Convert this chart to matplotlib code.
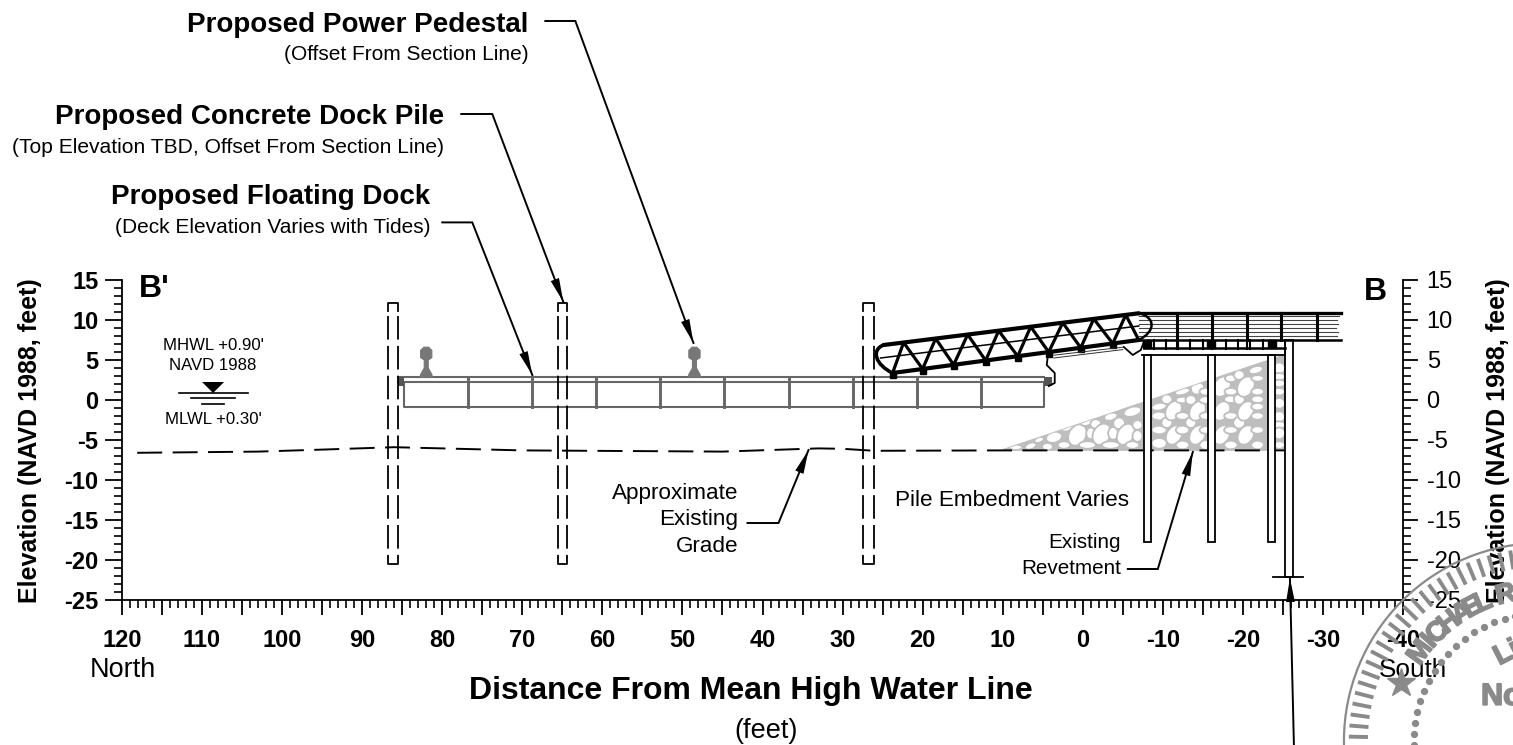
import numpy as np
import matplotlib
matplotlib.use('Agg')
import matplotlib.pyplot as plt
import matplotlib.patheffects as pe
from matplotlib.patches import Polygon, Ellipse, PathPatch, Rectangle, Circle
from matplotlib.path import Path

plt.rcParams['font.family'] = ['Liberation Sans', 'DejaVu Sans']
plt.rcParams['lines.scale_dashes'] = False

# everything below is in drawing units: feet along the section, feet NAVD 1988
x_major = [120, 115, 110, 105, 100, 95, 90, 85, 80, 75, 70, 65, 60, 55, 50, 45, 40, 35,
           30, 25, 20, 15, 10, 5, 0, -5, -10, -15, -20, -25, -30, -35, -40]
x_labels = ['120', '', '110', '', '100', '', '90', '', '80', '', '70', '', '60', '', '50', '',
            '40', '', '30', '', '20', '', '10', '', '0', '', '-10', '', '-20', '', '-30', '', '-40']
y_major = [15, 10, 5, 0, -5, -10, -15, -20, -25]
y_labels = ['15', '10', '5', '0', '-5', '-10', '-15', '-20', '-25']

grade_x = [118.1, 103, 95, 86, 70, 45, 33, 30, 26, 10, -25.25]
grade_y = [-6.6, -6.45, -6.2, -5.9, -6.3, -6.45, -6.05, -6.1, -6.35, -6.3, -6.3]

# new piles (dashed) left/right faces
new_pile_left = [86.75, 65.6, 27.4]
new_pile_right = [85.5, 64.4, 26.1]
new_pile_top = 12.1
new_pile_bottom = -20.5

# floating dock
dock_left = 84.75
dock_right = 4.875
dock_deck_top = 2.875
dock_deck_under = 2.3
dock_bottom = -0.875
dock_joints = [76.75, 68.75, 60.75, 52.75, 44.75, 36.75, 28.75, 20.75, 12.75]
pedestals = [82, 48.5]
ped_half = [0.75, 0.7, 0.25, 0.25, 0.7, 0.7, 0.3]
ped_y = [2.875, 3.2, 4.0, 5.0, 5.3, 6.2, 6.6]

# gangway
top_chord_x = [24.875, -7]
top_chord_y = [6.875, 10.84]
bot_chord_x = [23.75, -7]
bot_chord_y = [3.375, 7.5]
mid_chord_x = [25.25, -7]
mid_chord_y = [5.25, 9.25]
truss_top = [22.375, 18.375, 14.375, 10.5, 6.5, 2.5, -1.375, -5.375]
truss_bot = [23.75, 20, 16.125, 12.125, 8.125, 4.25, 0.25, -3.75, -7]

# existing pier
pier_left = -7
pier_right = -32.25
pier_top = 10.875
pier_soffit = 7.5
pier_hatch_y = [10.5, 10, 9.5, 9, 8.5, 8]
pier_hatch_end = [-32.0, -31.7, -31.9, -31.6, -31.9, -31.8]
pier_bents = [-11.75, -16.125, -20.5, -24.75, -29.25]
pier_studs = [-8.875, -10.375, -11.875, -13.375, -15, -17.875, -19.375, -20.875, -22.5]
pile_caps = [-8, -16, -23.625]
old_pile_left = [-7.625, -15.625, -23.125]
old_pile_right = [-8.5, -16.5, -24]

# revetment outline and stones, stones digitized at 24 units per foot from the toe corner
rev_x = [10, -25.25, -25.25]
rev_y = [-6.25, 5.625, -6.25]
stones = [(60, 292, 30, 10, 0), (105, 288, 26, 12, 20), (130, 270, 22, 10, 20), (155, 290, 24, 14, 0),
          (175, 262, 36, 20, 15), (205, 285, 28, 14, 0), (215, 232, 30, 14, 20), (245, 255, 50, 32, 60),
          (275, 215, 30, 14, 20), (275, 285, 38, 14, 0), (285, 250, 20, 22, 0), (300, 222, 24, 18, 0),
          (318, 253, 50, 32, 60), (345, 200, 30, 14, 15), (345, 285, 40, 14, 0), (352, 250, 22, 24, 0),
          (370, 220, 26, 22, 0), (390, 253, 50, 30, 60), (410, 185, 40, 18, 15), (410, 285, 30, 14, 0),
          (425, 225, 22, 18, 0), (425, 258, 22, 22, 0), (490, 170, 34, 14, 10), (490, 198, 34, 16, 0),
          (490, 240, 34, 16, 0), (490, 280, 34, 20, 0), (513, 148, 24, 18, 0), (513, 218, 24, 20, 0),
          (533, 182, 46, 28, 60), (535, 255, 46, 28, 60), (560, 125, 34, 12, 15), (560, 150, 30, 12, 0),
          (560, 198, 30, 14, 0), (560, 240, 30, 16, 0), (560, 285, 30, 16, 0), (585, 218, 24, 20, 0),
          (585, 150, 24, 18, 0), (605, 115, 30, 22, 30), (605, 183, 46, 28, 60), (605, 255, 46, 28, 60),
          (630, 125, 28, 14, 0), (630, 150, 30, 14, 0), (630, 198, 28, 14, 0), (630, 240, 28, 14, 0),
          (630, 285, 28, 18, 0), (650, 218, 20, 20, 0), (650, 148, 20, 20, 0), (678, 110, 48, 30, 60),
          (678, 183, 46, 28, 60), (678, 255, 46, 28, 60), (705, 125, 28, 14, 0), (705, 148, 30, 14, 0),
          (705, 198, 30, 14, 0), (705, 240, 30, 14, 0), (705, 285, 30, 16, 0), (705, 85, 26, 14, 0),
          (730, 75, 24, 18, 0), (730, 148, 24, 20, 0), (730, 218, 26, 22, 0), (750, 110, 48, 30, 60),
          (750, 183, 46, 28, 60), (750, 255, 46, 28, 60), (780, 60, 32, 14, 15), (785, 85, 28, 12, 0),
          (785, 125, 28, 14, 0), (785, 148, 28, 14, 0), (785, 170, 28, 14, 0), (785, 198, 28, 14, 0),
          (785, 240, 28, 14, 0), (785, 285, 28, 16, 0), (850, 55, 26, 22, 0), (850, 80, 26, 14, 0),
          (850, 100, 26, 14, 0), (850, 125, 26, 14, 0), (850, 160, 26, 20, 0), (850, 200, 26, 20, 0),
          (850, 225, 26, 14, 0), (850, 250, 26, 22, 0), (850, 285, 26, 14, 0)]

# leaders: polyline, last point is the arrow tip
leaders = [([67.125, 63.375, 48.625], [47.375, 47.375, 7.125]),
           ([77.625, 73.75, 64.875], [35.75, 35.75, 12.25]),
           ([80, 76.25, 68.75], [22.2, 22.2, 3.125]),
           ([41.875, 38, 34.25], [-15.375, -15.375, -6.25]),
           ([-5.625, -9.375, -13.75], [-21.125, -21.125, -6.5]),
           ([-26.375, -25.875], [-43.125, -22.25])]

# stamp
seal_x = -57.375
seal_y = -42.625
seal_letters = ['M', 'I', 'C', 'H', 'A', 'E', 'L', 'R']
seal_angles = [54, 48.5, 44, 38, 32, 27.5, 23, 14]

fig = plt.figure(figsize=(15.13, 7.45), dpi=100)
ax = fig.add_axes([122 / 1513, 1 - 600 / 745, 1281 / 1513, 320 / 745])
ax.set_xlim(120, -40)
ax.set_ylim(-25, 15)
LW = 1.3
BLACK = '#000000'
GRAY = '#666666'
STONE = '#bebebe'

for s in ['top']:
    ax.spines[s].set_visible(False)
ax.spines['right'].set_visible(False)
for s in ['left', 'bottom']:
    ax.spines[s].set_linewidth(1.3)

ax.set_xticks(x_major)
ax.set_xticklabels(x_labels, fontsize=17, fontweight='bold')
ax.set_xticks(np.arange(-40, 121, 1), minor=True)
ax.set_yticks(y_major)
ax.set_yticklabels(y_labels, fontsize=17, fontweight='bold')
ax.set_yticks(np.arange(-25, 16, 1), minor=True)
ax.tick_params(which='major', length=12, width=1.3, pad=5)
ax.tick_params(which='minor', length=6, width=1.2)
ax.tick_params(axis='x', which='major', length=11, pad=10)

ax2 = ax.twinx()
ax2.set_ylim(-25, 15)
for s in ['top', 'left', 'bottom']:
    ax2.spines[s].set_visible(False)
ax2.spines['right'].set_linewidth(1.3)
ax2.set_yticks(y_major)
ax2.set_yticklabels(y_labels, fontsize=17)
ax2.set_yticks(np.arange(-25, 16, 1), minor=True)
ax2.tick_params(which='major', length=11, width=1.3, pad=6)
ax2.tick_params(which='minor', length=6, width=1.2)
ax.set_zorder(ax2.get_zorder() + 1)
ax.patch.set_visible(False)

# revetment
rev = Polygon(np.column_stack([rev_x, rev_y]), closed=True, fc=STONE, ec=STONE, lw=1.3, zorder=1)
ax.add_patch(rev)
for sx, sy, w, h, a in stones:
    st = Ellipse((10.875 - sx / 24, 6.25 - sy / 24), 1.35 * w / 24, 1.6 * h / 24, angle=-a, fc='white', ec=STONE,
                 lw=1.3, zorder=1.5)
    ax.add_patch(st)
    st.set_clip_path(rev)

# existing grade
ax.plot(grade_x, grade_y, color=BLACK, lw=1.4, ls=(0, (18, 7.5)), zorder=2)

# existing piles
for l, r in zip(old_pile_left, old_pile_right):
    ax.add_patch(Rectangle((r, -17.75), l - r, 23.375, fc='white', ec=BLACK, lw=LW, zorder=3))
ax.add_patch(Rectangle((-26.3, -22.125), 1.0, 29.625, fc='white', ec=BLACK, lw=LW, zorder=3))
ax.plot([-23.75, -27.5], [-22.125, -22.125], color=BLACK, lw=LW, zorder=3)

# new piles
for l, r in zip(new_pile_left, new_pile_right):
    for side in [l, r]:
        ax.plot([side, side], [new_pile_top - 1.6, new_pile_bottom + 0.7], color=BLACK, lw=LW,
                ls=(0, (17, 4.5)), zorder=6)
    ax.plot([l, l, r, r], [new_pile_top - 1, new_pile_top, new_pile_top, new_pile_top - 1],
            color=BLACK, lw=LW, zorder=6)
    ax.plot([l, l, r, r], [new_pile_bottom + 0.7, new_pile_bottom, new_pile_bottom, new_pile_bottom + 0.7],
            color=BLACK, lw=LW, zorder=6)

# floating dock
ax.plot([85.5, dock_right], [dock_deck_top, dock_deck_top], color=GRAY, lw=1.5, zorder=4)
ax.plot([85.5, dock_right], [dock_deck_under, dock_deck_under], color=GRAY, lw=1.5, zorder=4)
ax.plot([dock_left, dock_left, dock_right, dock_right],
        [dock_deck_under, dock_bottom, dock_bottom, dock_deck_under], color=GRAY, lw=1.5, zorder=4)
for j in dock_joints:
    ax.plot([j, j], [dock_deck_top, dock_bottom], color=GRAY, lw=2.1, zorder=4)
ax.add_patch(Rectangle((dock_left, 1.75), 0.75, 1.125, fc='#555555', ec='none', zorder=4))
ax.add_patch(Rectangle((3.875, 1.75), 1.0, 1.125, fc='#555555', ec='none', zorder=4))
for p in pedestals:
    xs = [p - h for h in ped_half] + [p + h for h in ped_half[::-1]]
    ax.add_patch(Polygon(np.column_stack([xs, ped_y + ped_y[::-1]]), closed=True, fc='#777777', ec='#777777',
                         lw=0.8, zorder=4))

# gangway
ax.plot(top_chord_x, top_chord_y, color=BLACK, lw=3, zorder=7, solid_capstyle='round')
ax.plot(bot_chord_x, bot_chord_y, color=BLACK, lw=3, zorder=7, solid_capstyle='round')
ax.plot(mid_chord_x, mid_chord_y, color=BLACK, lw=1.1, zorder=7)
# chord heights under each truss node
ty = np.interp(truss_top, top_chord_x[::-1], top_chord_y[::-1])
by = np.interp(truss_bot, bot_chord_x[::-1], bot_chord_y[::-1])
zx, zy = [], []
for i in range(len(truss_top)):
    zx += [truss_bot[i], truss_top[i]]
    zy += [by[i], ty[i]]
zx.append(truss_bot[-1])
zy.append(by[-1])
ax.plot(zx, zy, color=BLACK, lw=2.3, zorder=7)
ax.plot(truss_bot[:-1], by[:-1] - 0.2, ls='none', marker='s', ms=3.8, color=BLACK, zorder=7)
left_end = Path([(24.875, 6.875), (26.5, 6.25), (25.875, 4.375), (23.75, 3.375)],
                [Path.MOVETO, Path.CURVE4, Path.CURVE4, Path.CURVE4])
right_end = Path([(-7, 10.875), (-9.25, 10.25), (-9, 8.5), (-7, 7.5)],
                 [Path.MOVETO, Path.CURVE4, Path.CURVE4, Path.CURVE4])
ax.add_patch(PathPatch(left_end, fc='none', ec=BLACK, lw=2.6, zorder=7))
ax.add_patch(PathPatch(right_end, fc='none', ec=BLACK, lw=1.8, zorder=7))
ax.plot([4.375, 4.5, 3.5, 3.5, 4.25], [5.375, 4.375, 3.375, 2.125, 1.75], color=BLACK, lw=1.3, zorder=7)
ax.plot([-5.125, -6.25, -7.25, -7.625], [6.625, 5.625, 6.25, 7.25], color=BLACK, lw=1.3, zorder=7)
ax.plot([3.625, -5], [5.6, 6.6], color='#333333', lw=0.7, zorder=7)
ax.plot([3.625, -5], [5.25, 6.3], color='#333333', lw=0.7, zorder=7)

# pier deck
ax.plot([pier_left, pier_right], [pier_top, pier_top], color=BLACK, lw=2.4, zorder=5)
ax.plot([pier_left, pier_right], [pier_soffit, pier_soffit], color=BLACK, lw=1.8, zorder=5)
for hy, he in zip(pier_hatch_y, pier_hatch_end):
    ax.plot([pier_left, he], [hy, hy], color='#444444', lw=0.8, zorder=5)
for b in pier_bents:
    ax.plot([b, b], [pier_top, pier_soffit], color=BLACK, lw=2.2, zorder=5)
for b in pier_studs + pier_bents[:3]:
    ax.plot([b, b], [pier_soffit, 6.375], color=BLACK, lw=1.5, zorder=5)
ax.plot([-7.625, -25.25], [6.5, 6.5], color=BLACK, lw=1.8, zorder=5)
ax.plot([-7.4, -25.25, -25.25], [5.625, 5.625, 7.5], color=BLACK, lw=1.3, zorder=5)
ax.plot(pile_caps, [7.0, 7.0, 7.0], ls='none', marker='s', ms=6, color=BLACK, zorder=5)

# water level symbol
ax.plot([112.875, 104.25], [0.875, 0.875], color=BLACK, lw=1.2)
ax.plot([111.375, 105.875], [0.25, 0.25], color=BLACK, lw=1.2)
ax.plot([110, 107.25], [-0.5, -0.5], color=BLACK, lw=1.2)
ax.add_patch(Polygon([(110, 2.25), (107.25, 2.25), (108.625, 0.875)], closed=True, fc=BLACK, ec='none'))

# leaders with filled arrow tips
for lx, ly in leaders:
    ax.plot(lx, ly, color=BLACK, lw=1.4, clip_on=False, zorder=8, solid_joinstyle='miter')
    d = np.array([lx[-1] - lx[-2], ly[-1] - ly[-2]], dtype=float)
    d /= np.hypot(d[0], d[1])
    n = np.array([-d[1], d[0]])
    tip = np.array([lx[-1], ly[-1]])
    ax.add_patch(Polygon([tip, tip - 3 * d + 0.55 * n, tip - 3 * d - 0.55 * n], closed=True, fc=BLACK, ec='none',
                         clip_on=False, zorder=8))

# text
ax.text(69.25, 46.9, 'Proposed Power Pedestal', ha='right', va='center', fontsize=20, fontweight='bold')
ax.text(69.25, 43.2, '(Offset From Section Line)', ha='right', va='center', fontsize=15)
ax.text(79.75, 35.4, 'Proposed Concrete Dock Pile', ha='right', va='center', fontsize=20, fontweight='bold')
ax.text(79.75, 31.55, '(Top Elevation TBD, Offset From Section Line)', ha='right', va='center', fontsize=15.1)
ax.text(81.5, 25.4, 'Proposed Floating Dock', ha='right', va='center', fontsize=20, fontweight='bold')
ax.text(81.5, 21.55, '(Deck Elevation Varies with Tides)', ha='right', va='center', fontsize=15)
ax.text(43, -11.75, 'Approximate', ha='right', va='center', fontsize=16.2)
ax.text(43, -15, 'Existing', ha='right', va='center', fontsize=16.2)
ax.text(43, -18.25, 'Grade', ha='right', va='center', fontsize=16.2)
ax.text(23.5, -12.625, 'Pile Embedment Varies', ha='left', va='center', fontsize=16.2)
ax.text(-4.75, -17.75, 'Existing', ha='right', va='center', fontsize=14.9)
ax.text(-4.75, -21.125, 'Revetment', ha='right', va='center', fontsize=14.9)
ax.text(108.625, 6.875, "MHWL +0.90'", ha='center', va='center', fontsize=12.1)
ax.text(108.625, 4.375, 'NAVD 1988', ha='center', va='center', fontsize=12.1)
ax.text(108.625, -2.5, "MLWL +0.30'", ha='center', va='center', fontsize=12.1)
ax.text(117.875, 13.875, "B'", ha='left', va='center', fontsize=23, fontweight='bold')
ax.text(-35.125, 13.5, 'B', ha='left', va='center', fontsize=23, fontweight='bold')
ax.text(124, -33.75, 'North', ha='left', va='center', fontsize=19.5)
ax.text(-37, -33.75, 'South', ha='left', va='center', fontsize=18.8)
ax.text(41.5, -36.375, 'Distance From Mean High Water Line', ha='center', va='center', fontsize=23, fontweight='bold')
ax.text(39.6, -41.375, '(feet)', ha='center', va='center', fontsize=19.5)
ax.text(131.5, -5.125, 'Elevation (NAVD 1988, feet)', rotation=90, ha='center', va='center', fontsize=18,
        fontweight='bold')
ax.text(-51.875, -5.125, 'Elevation (NAVD 1988, feet)', rotation=90, ha='center', va='center', fontsize=18,
        fontweight='bold')

# stamp, drawn over everything and cut by the page edge
SEAL = '#8a8a8a'
blur = [pe.withStroke(linewidth=1.2, foreground=SEAL)]
ax.add_patch(Circle((seal_x, seal_y), 24.75, fc='none', ec=SEAL, lw=1.6, clip_on=False, zorder=9))
for a in np.arange(-2, 92, 3.3):
    t = np.radians(a)
    ax.plot([seal_x + 22 * np.cos(t), seal_x + 23.9 * np.cos(t)],
            [seal_y + 22 * np.sin(t), seal_y + 23.9 * np.sin(t)],
            color=SEAL, lw=2.8, clip_on=False, zorder=9)
for a in np.arange(-2, 90, 5):
    t = np.radians(a)
    ax.plot(seal_x + 16 * np.cos(t), seal_y + 16 * np.sin(t), ls='none', marker='o', ms=4.2, color=SEAL,
            clip_on=False, zorder=9)
for ch, a in zip(seal_letters, seal_angles):
    t = np.radians(a)
    ax.text(seal_x + 18.75 * np.sin(t), seal_y + 18.75 * np.cos(t), ch, rotation=a, ha='center', va='center',
            fontsize=20, fontweight='bold', color=SEAL, zorder=9, path_effects=blur)
ax.text(-50.875, -31.25, 'Lic', rotation=27, ha='left', va='center', fontsize=20, fontweight='bold', color=SEAL,
        zorder=9, path_effects=blur)
ax.text(-49.75, -37.1, 'No', ha='left', va='center', fontsize=22, fontweight='bold', color=SEAL, zorder=9,
        path_effects=blur)
ax.plot(-39.75, -35.375, ls='none', marker='*', ms=21, mfc=SEAL, mec=SEAL, clip_on=False, zorder=9)

fig.savefig('out.png', dpi=100)
